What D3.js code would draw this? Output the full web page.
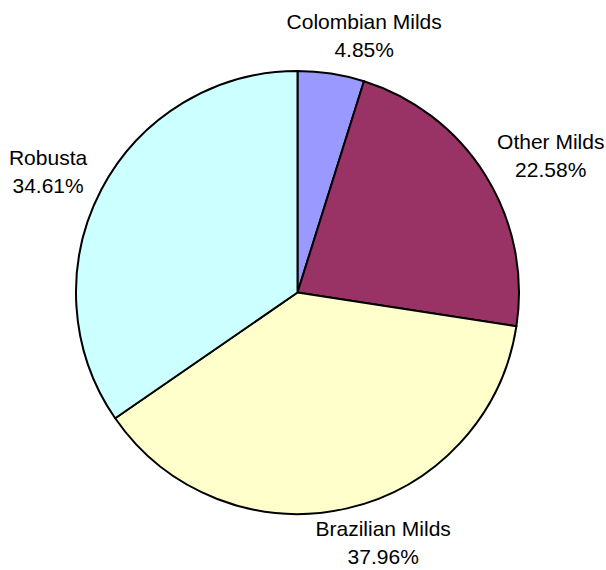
<!DOCTYPE html>
<html>
<head>
<meta charset="utf-8">
<script src="https://cdn.jsdelivr.net/npm/d3@7"></script>
<style>
  body { margin: 0; background: #fff; }
  text { font-family: "Liberation Sans", Arial, sans-serif; font-size: 21px; fill: #000; }
</style>
</head>
<body>
<script>
// coffee production share by type
var categories = ["Colombian Milds", "Other Milds", "Brazilian Milds", "Robusta"];
var shares = [4.85, 22.58, 37.96, 34.61];
var colors = ["#9999FF", "#993366", "#FFFFCC", "#CCFFFF"];

var data = categories.map(function(c, i) { return { name: c, share: shares[i], color: colors[i] }; });

var width = 606,
    height = 570,
    cx = 297.5,
    cy = 292.5,
    radius = 221.5;

var pie = d3.pie()
  .sort(null)
  .value(function(d) { return d.share; });

var arc = d3.arc()
  .outerRadius(radius)
  .innerRadius(0);

var svg = d3.select("body").append("svg")
  .attr("width", width)
  .attr("height", height);

var g = svg.append("g")
  .attr("transform", "translate(" + cx + "," + cy + ")");

g.selectAll(".arc")
  .data(pie(data))
  .enter().append("path")
  .attr("class", "arc")
  .attr("d", arc)
  .style("fill", function(d) { return d.data.color; })
  .style("stroke", "#000")
  .style("stroke-width", 2)
  .style("stroke-linejoin", "round");

// labels sit outside the pie, pushed outwards along the mid angle
var labelR = 240, halfH = 21;

var labels = g.selectAll(".label")
  .data(pie(data))
  .enter().append("text")
  .attr("class", "label")
  .attr("text-anchor", "middle");

labels.append("tspan").attr("x", 0).attr("y", -6).text(function(d) { return d.data.name; });
labels.append("tspan").attr("x", 0).attr("y", 22).text(function(d) { return d.data.share.toFixed(2) + "%"; });

labels.attr("transform", function(d) {
  var a = (d.startAngle + d.endAngle) / 2;
  var s = Math.sin(a), c = Math.cos(a);
  var w = this.getBBox().width;
  var x = labelR * s + (s < 0 ? -1 : 1) * Math.sqrt(Math.abs(s)) * w / 2;
  var y = -labelR * c - c * halfH;
  // keep the text inside the picture
  y = Math.min(y, height - cy - 28);
  return "translate(" + x + "," + y + ")";
});
</script>
</body>
</html>
